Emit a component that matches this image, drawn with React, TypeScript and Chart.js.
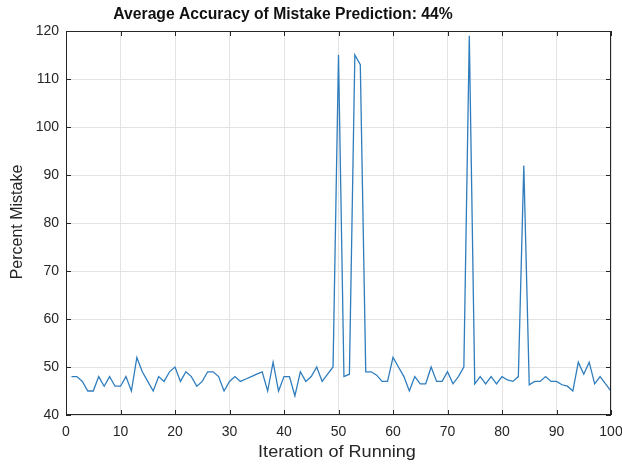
import React, { useEffect, useRef } from "react";
import { Chart, registerables } from "chart.js";

Chart.register(...registerables);

const TITLE = "Average Accuracy of Mistake Prediction: 44%";
const X_LABEL = "Iteration of Running";
const Y_LABEL = "Percent Mistake";

const iterations: number[] = Array.from({ length: 100 }, (_, i) => i + 1);
const percentMistake: number[] = [
  48, 48, 47, 45, 45, 48, 46, 48, 46, 46,
  48, 45, 52, 49, 47, 45, 48, 47, 49, 50,
  47, 49, 48, 46, 47, 49, 49, 48, 45, 47,
  48, 47, 47.5, 48, 48.5, 49, 45, 51, 45, 48,
  48, 44, 49, 47, 48, 50, 47, 48.5, 50, 115,
  48, 48.5, 115, 113, 49, 49, 48.3, 47, 47, 52,
  50, 48, 45, 48, 46.5, 46.5, 50, 47, 47, 49,
  46.5, 48, 50, 119, 46.5, 48, 46.5, 48, 46.5, 48,
  47.3, 47, 48, 92, 46.3, 47, 47, 48, 47, 47,
  46.3, 46, 45, 51, 48.5, 51, 46.5, 48, 46.5, 45,
];
const xTicks = [0, 10, 20, 30, 40, 50, 60, 70, 80, 90, 100];
const yTicks = [40, 50, 60, 70, 80, 90, 100, 110, 120];

const FONT = "'Liberation Sans', Arial, sans-serif";
const AXIS_COLOR = "#262626";

const matlabPlugin = {
  id: "matlabDecor",
  afterDraw(chart: any) {
    const { ctx, chartArea } = chart;
    const { left, right, top, bottom } = chartArea;
    const xs = chart.scales.x;
    const ys = chart.scales.y;
    ctx.save();
    // box
    ctx.strokeStyle = AXIS_COLOR;
    ctx.lineWidth = 1;
    ctx.strokeRect(left + 0.5, top + 0.5, right - left - 1, bottom - top - 1);
    // inner ticks
    const tl = 5;
    ctx.beginPath();
    xTicks.forEach((v) => {
      const px = Math.round(xs.getPixelForValue(v)) + 0.5;
      ctx.moveTo(px, bottom);
      ctx.lineTo(px, bottom - tl);
      ctx.moveTo(px, top);
      ctx.lineTo(px, top + tl);
    });
    yTicks.forEach((v) => {
      const py = Math.round(ys.getPixelForValue(v)) + 0.5;
      ctx.moveTo(left, py);
      ctx.lineTo(left + tl, py);
      ctx.moveTo(right, py);
      ctx.lineTo(right - tl, py);
    });
    ctx.stroke();
    ctx.textAlign = "center";
    ctx.textBaseline = "middle";
    // title
    ctx.save();
    ctx.fillStyle = "#111";
    ctx.font = `bold 16px ${FONT}`;
    ctx.translate(283, 15);
    ctx.scale(0.98, 1);
    ctx.fillText(TITLE, 0, 0);
    ctx.restore();
    // x axis label
    ctx.save();
    ctx.font = `16px ${FONT}`;
    ctx.fillStyle = AXIS_COLOR;
    ctx.translate(337, 453);
    ctx.scale(1.13, 1);
    ctx.fillText(X_LABEL, 0, 0);
    ctx.restore();
    // y axis label
    ctx.save();
    ctx.font = `16px ${FONT}`;
    ctx.fillStyle = AXIS_COLOR;
    ctx.translate(18, 222);
    ctx.rotate(-Math.PI / 2);
    ctx.fillText(Y_LABEL, 0, 0);
    ctx.restore();
    ctx.restore();
  },
};

export default function App() {
  const ref = useRef<HTMLCanvasElement | null>(null);
  useEffect(() => {
    if (!ref.current) return;
    const chart = new Chart(ref.current, {
      type: "line",
      data: {
        datasets: [
          {
            data: iterations.map((x, i) => ({ x, y: percentMistake[i] })),
            borderColor: "#2f7dbd",
            borderWidth: 1.3,
            pointRadius: 0,
            tension: 0,
            fill: false,
          },
        ],
      },
      options: {
        responsive: false,
        animation: false,
        events: [],
        layout: { padding: { top: 31, right: 0, left: 0, bottom: 0 } },
        plugins: {
          legend: { display: false },
          title: { display: false },
          tooltip: { enabled: false },
        },
        scales: {
          x: {
            type: "linear",
            min: 0,
            max: 100,
            afterBuildTicks: (s: any) => {
              s.ticks = xTicks.map((value) => ({ value }));
            },
            afterFit: (s: any) => {
              s.height = 50;
              s.paddingRight = 11;
              s.paddingLeft = 0;
            },
            ticks: {
              padding: 9,
              color: AXIS_COLOR,
              font: { family: FONT, size: 14 },
              maxRotation: 0,
            },
            grid: { color: "#e3e3e3", drawTicks: false },
            border: { display: false },
          },
          y: {
            type: "linear",
            min: 40,
            max: 120,
            afterBuildTicks: (s: any) => {
              s.ticks = yTicks.map((value) => ({ value }));
            },
            afterFit: (s: any) => {
              s.width = 66;
              s.paddingTop = 0;
              s.paddingBottom = 0;
            },
            ticks: {
              padding: 7,
              color: AXIS_COLOR,
              font: { family: FONT, size: 14 },
            },
            grid: { color: "#e3e3e3", drawTicks: false },
            border: { display: false },
          },
        },
      },
      plugins: [matlabPlugin],
    });
    return () => chart.destroy();
  }, []);
  return (
    <div style={{ position: "fixed", left: 0, top: 0, width: 622, height: 465, background: "#fff" }}>
      <canvas ref={ref} width={622} height={465} style={{ width: 622, height: 465 }} />
    </div>
  );
}
